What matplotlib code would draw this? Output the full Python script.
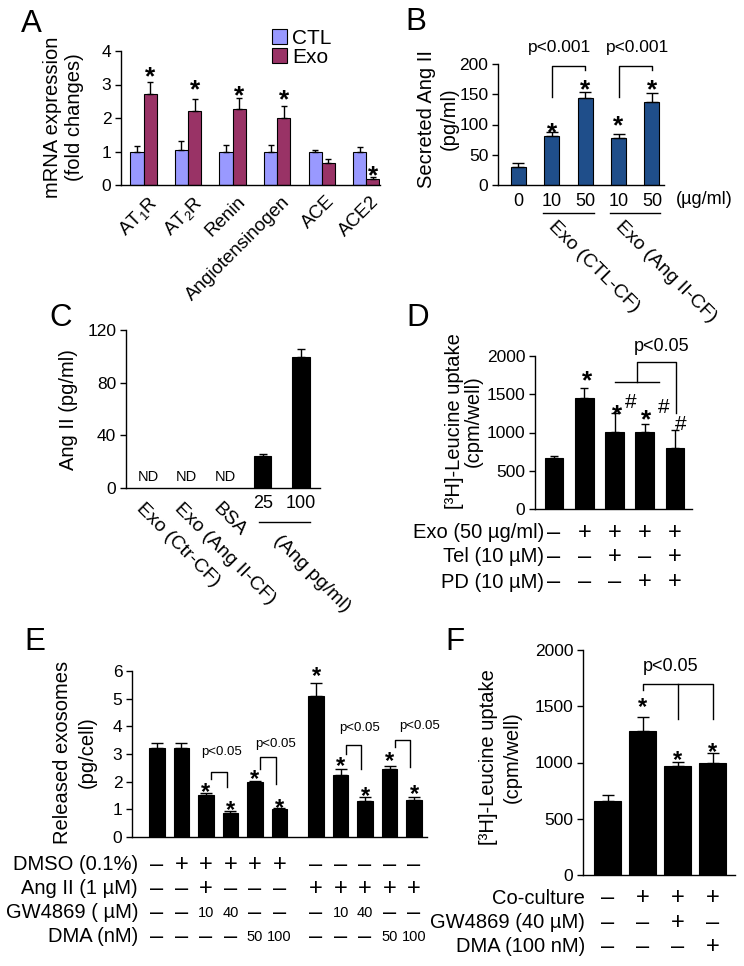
import matplotlib
matplotlib.use('Agg')
import matplotlib.pyplot as plt
from matplotlib.transforms import blended_transform_factory, offset_copy
from matplotlib.patches import Patch
import numpy as np

plt.rcParams['font.family'] = ['Liberation Sans', 'DejaVu Sans']
plt.rcParams['mathtext.fontset'] = 'custom'
plt.rcParams['mathtext.rm'] = 'Liberation Sans'
plt.rcParams['mathtext.it'] = 'Liberation Sans:italic'
plt.rcParams['mathtext.bf'] = 'Liberation Sans:bold'

W, H = 744, 966

# ---------------- data ----------------
# Panel A
a_genes = ['AT$_1$R', 'AT$_2$R', 'Renin', 'Angiotensinogen', 'ACE', 'ACE2']
a_ctl = [1.0, 1.03, 1.0, 1.0, 1.0, 1.0]
a_ctl_err = [0.17, 0.28, 0.19, 0.19, 0.05, 0.13]
a_exo = [2.71, 2.2, 2.27, 2.01, 0.67, 0.17]
a_exo_err = [0.35, 0.38, 0.33, 0.36, 0.11, 0.08]
a_star_y = [3.47, 3.08, 2.91, 2.78, None, 0.5]

# Panel B
b_doses = ['0', '10', '50', '10', '50']
b_vals = [30, 81, 144, 78.5, 138]
b_err = [6.5, 6, 10, 6, 14]
b_star_y = [None, 99, 170, 110, 170]
b_groups = ['Exo (CTL-CF)', 'Exo (Ang II-CF)']
b_pvals = ['p<0.001', 'p<0.001']

# Panel C
c_labels = ['Exo (Ctr-CF)', 'Exo (Ang II-CF)', 'BSA', '25', '100']
c_vals = [None, None, None, 24.3, 99.4]
c_err = [0, 0, 0, 1.3, 6.4]

# Panel D
d_vals = [665, 1457, 1013, 1013, 796]
d_err = [22, 130, 248, 96, 239]
d_row_labels = ['Exo (50 µg/ml)', 'Tel (10 µM)', 'PD (10 µM)']
d_row_signs = [['–', '+', '+', '+', '+'],
               ['–', '–', '+', '–', '+'],
               ['–', '–', '–', '+', '+']]
d_marks = [(1.09, 1774, '*'), (2.08, 1339, '*'), (2.52, 1413, '#'),
           (3.04, 1274, '*'), (3.62, 1352, '#'), (4.17, 1130, '#')]

# Panel E
e_pos = [0, 1, 2, 3, 4, 5, 6.5, 7.5, 8.5, 9.5, 10.5]
e_vals = [3.2, 3.2, 1.51, 0.85, 1.99, 1.03, 5.11, 2.23, 1.29, 2.45, 1.33]
e_err = [0.21, 0.21, 0.08, 0.08, 0.03, 0.02, 0.47, 0.21, 0.16, 0.13, 0.12]
e_star_y = [None, None, 1.85, 1.21, 2.33, 1.29, 6.06, 2.81, 1.73, 3.0, 1.81]
# (left bar idx, right bar idx, left-leg bottom, top, right-leg bottom, text x, text y)
e_brackets = [(2, 3, 2.11, 2.36, 1.81, 2.64, 3.08),
              (4, 5, 2.47, 2.89, 1.93, 4.86, 3.36),
              (7, 8, 2.99, 3.32, 2.44, 8.26, 3.93),
              (9, 10, 3.26, 3.50, 2.54, 10.71, 4.01)]
e_row_labels = ['DMSO (0.1%)', 'Ang II (1 µM)', 'GW4869 ( µM)', 'DMA (nM)']
e_row_vals = [['–', '+', '+', '+', '+', '+', '–', '–', '–', '–', '–'],
              ['–', '–', '+', '–', '–', '–', '+', '+', '+', '+', '+'],
              ['–', '–', '10', '40', '–', '–', '–', '10', '40', '–', '–'],
              ['–', '–', '–', '–', '50', '100', '–', '–', '–', '50', '100']]

# Panel F
f_vals = [661, 1280, 969, 999]
f_err = [50, 127, 38, 88]
f_star_y = [None, 1550, 1081, 1156]
f_row_labels = ['Co-culture', 'GW4869 (40 µM)', 'DMA (100 nM)']
f_row_signs = [['–', '+', '+', '+'],
               ['–', '–', '+', '–'],
               ['–', '–', '–', '+']]

# ---------------- helpers ----------------
TICK_FS = 12.5
ROW_FS = 14.5
SIGN_FS = 17
YLAB_FS = 14.5

fig = plt.figure(figsize=(W / 100, H / 100), dpi=100)
fig.patch.set_facecolor('white')


def fy(ypix):
    return 1 - ypix / H


def fx(xpix):
    return xpix / W


def make_ax(x0, x1, y0, y1):
    ax = fig.add_axes([x0 / W, 1 - y1 / H, (x1 - x0) / W, (y1 - y0) / H])
    for s in ('top', 'right'):
        ax.spines[s].set_visible(False)
    for s in ('left', 'bottom'):
        ax.spines[s].set_linewidth(1.0)
    ax.tick_params(axis='y', direction='out', length=4, width=1, labelsize=TICK_FS, pad=3)
    ax.tick_params(axis='x', length=0)
    ax.set_facecolor('none')
    return ax


def bt(ax):
    return blended_transform_factory(ax.transData, fig.transFigure)


def mark(ax, x, y, s='*', fs=19):
    off = -0.58 * fs if s == '*' else -0.36 * fs
    tr = offset_copy(ax.transData, fig=fig, y=off, units='points')
    ax.text(x, y, s, transform=tr, ha='center', va='baseline', fontsize=fs,
            clip_on=False, fontweight='bold' if s == '*' else 'normal')


def sign(ax, x, ypix, s):
    if s in ('+', '–'):
        ax.text(x, fy(ypix), s, transform=bt(ax), ha='center', va='center',
                fontsize=SIGN_FS, fontweight='light')
    else:
        ax.text(x, fy(ypix), s, transform=bt(ax), ha='center', va='center', fontsize=10.5)


def ylab(xpix, ypix, s, fs=YLAB_FS):
    fig.text(fx(xpix), fy(ypix), s, rotation=90, ha='center', va='center', fontsize=fs)


def letter(xpix, ypix, s):
    fig.text(fx(xpix), fy(ypix), s, ha='center', va='center', fontsize=22.5)


def errs(ax, x, v, e, cs):
    x = np.asarray(x, float)
    ax.errorbar(x, v, yerr=[np.zeros(len(v)), e], fmt='none', ecolor='black',
                elinewidth=1, capsize=cs, capthick=1, clip_on=False)


# ---------------- Panel A ----------------
axA = make_ax(121, 380, 51, 185)
xa = np.arange(len(a_genes))
bw = 0.295
axA.bar(xa - bw / 2, a_ctl, bw, color='#9999FF', edgecolor='black', linewidth=0.8, label='CTL')
axA.bar(xa + bw / 2, a_exo, bw, color='#993366', edgecolor='black', linewidth=0.8, label='Exo')
errs(axA, xa - bw / 2, a_ctl, a_ctl_err, 2)
errs(axA, xa + bw / 2, a_exo, a_exo_err, 2)
axA.set_xlim(-0.506, 5.31)
axA.set_ylim(0, 4)
axA.set_yticks([0, 1, 2, 3, 4])
axA.set_xticks([])
for i, g in enumerate(a_genes):
    axA.text(i + 0.1, fy(193), g, transform=bt(axA), rotation=45, ha='right', va='top',
             rotation_mode='anchor', fontsize=13.5)
for i, y in enumerate(a_star_y):
    if y is not None:
        mark(axA, i + bw / 2, y)
axA.legend(handles=[Patch(facecolor='#9999FF', edgecolor='black', linewidth=0.8, label='CTL'),
                    Patch(facecolor='#993366', edgecolor='black', linewidth=0.8, label='Exo')],
           loc='upper left', bbox_to_anchor=(fx(272), fy(29)), bbox_transform=fig.transFigure,
           frameon=False, fontsize=15, handlelength=0.7, handleheight=0.7,
           handletextpad=0.25, labelspacing=0.0, borderpad=0, borderaxespad=0)
ylab(53, 117, 'mRNA expression')
ylab(75, 117, '(fold changes)')
letter(31, 24, 'A')

# ---------------- Panel B ----------------
axB = make_ax(498, 664, 64, 185)
xb = np.arange(len(b_vals))
axB.bar(xb, b_vals, 0.45, color='#1F4E8A', edgecolor='black', linewidth=0.8)
errs(axB, xb, b_vals, b_err, 4)
axB.set_xlim(-0.61, 4.36)
axB.set_ylim(0, 200)
axB.set_yticks([0, 50, 100, 150, 200])
axB.set_xticks(xb)
axB.set_xticklabels(b_doses, fontsize=13)
axB.tick_params(axis='x', pad=6)
axB.text(fx(704), fy(199), '(µg/ml)', transform=fig.transFigure, ha='center', va='center', fontsize=13)
for i, y in enumerate(b_star_y):
    if y is not None:
        mark(axB, i, y)
for k, (l, r) in enumerate([(1, 2), (3, 4)]):
    axB.plot([l, l, r, r], [146, 197, 197, 190.6], color='black', lw=1, clip_on=False)
    axB.text([1.23, 3.57][k], 228, b_pvals[k], ha='center', va='center', fontsize=12.5)
    axB.plot([l - 0.25, r + 0.25], [fy(213)] * 2, color='black', lw=1,
             transform=bt(axB), clip_on=False)
    axB.text(l + 0.15, fy(218), b_groups[k], transform=bt(axB), rotation=-45, ha='left',
             va='top', rotation_mode='anchor', fontsize=14)
ylab(426, 119, 'Secreted Ang II')
ylab(449, 119, '(pg/ml)')
letter(416, 22, 'B')

# ---------------- Panel C ----------------
axC = make_ax(126, 320, 330, 488)
for i, v in enumerate(c_vals):
    if v is None:
        axC.text(i, 8.1, 'ND', ha='center', va='center', fontsize=10.5)
    else:
        axC.bar(i, v, 0.45, color='black', edgecolor='black', linewidth=0.8)
        errs(axC, [i], [v], [c_err[i]], 3)
axC.set_xlim(-0.6, 4.5)
axC.set_ylim(0, 120)
axC.set_yticks([0, 40, 80, 120])
axC.set_xticks([])
for i in range(3):
    axC.text(i - 0.1, fy(500), c_labels[i], transform=bt(axC), rotation=-45, ha='left',
             va='top', rotation_mode='anchor', fontsize=14)
for i in range(3, 5):
    axC.text(i, fy(504), c_labels[i], transform=bt(axC), ha='center', va='center', fontsize=13)
axC.plot([2.9, 4.25], [fy(522)] * 2, color='black', lw=1, transform=bt(axC), clip_on=False)
axC.text(3.5, fy(532), '(Ang pg/ml)', transform=bt(axC), rotation=-45, ha='left',
         va='top', rotation_mode='anchor', fontsize=14)
ylab(68, 410, 'Ang II (pg/ml)')
letter(61, 318, 'C')

# ---------------- Panel D ----------------
axD = make_ax(535, 692, 356, 509)
xd = np.arange(len(d_vals))
axD.bar(xd, d_vals, 0.62, color='black', edgecolor='black', linewidth=0.8)
errs(axD, xd, d_vals, d_err, 3)
axD.set_xlim(-0.63, 4.56)
axD.set_ylim(0, 2000)
axD.set_yticks([0, 500, 1000, 1500, 2000])
axD.set_xticks([])
for x, y, s in d_marks:
    mark(axD, x, y, s, fs=19 if s == '*' else 15)
axD.plot([2.01, 3.48], [1665, 1665], color='black', lw=1, clip_on=False)
axD.plot([2.74, 2.74, 4.03, 4.03], [1665, 1917, 1917, 1252], color='black', lw=1, clip_on=False)
axD.text(3.56, 2130, 'p<0.05', ha='center', va='center', fontsize=13)
for r, (lab, signs) in enumerate(zip(d_row_labels, d_row_signs)):
    ypx = [533, 557, 582][r]
    fig.text(fx(544), fy(ypx), lab, ha='right', va='center', fontsize=ROW_FS)
    for i, s in enumerate(signs):
        sign(axD, i, ypx, s)
ylab(455, 421, '[³H]-Leucine uptake')
ylab(473, 421, '(cpm/well)')
letter(418, 318, 'D')

# ---------------- Panel E ----------------
axE = make_ax(132, 427, 671, 837)
axE.bar(e_pos, e_vals, 0.64, color='black', edgecolor='black', linewidth=0.8)
errs(axE, e_pos, e_vals, e_err, 4)
axE.set_xlim(-1.02, 11.03)
axE.set_ylim(0, 6)
axE.set_yticks([0, 1, 2, 3, 4, 5, 6])
axE.set_xticks([])
for p, y in zip(e_pos, e_star_y):
    if y is not None:
        mark(axE, p, y, fs=17)
for li, ri, lb, top, rb, tx, ty in e_brackets:
    xl = e_pos[li] + 0.22
    xr = e_pos[ri] - 0.15
    axE.plot([xl, xl, xr, xr], [lb, top, top, rb], color='black', lw=1, clip_on=False)
    axE.text(tx, ty, 'p<0.05', ha='center', va='center', fontsize=9.5)
for r, (lab, vals) in enumerate(zip(e_row_labels, e_row_vals)):
    ypx = [865, 889, 913, 937][r]
    fig.text(fx(138), fy(ypx), lab, ha='right', va='center', fontsize=ROW_FS)
    for p, s in zip(e_pos, vals):
        sign(axE, p, ypx, s)
ylab(62, 752, 'Released exosomes')
ylab(87, 752, '(pg/cell)')
letter(35, 642, 'E')

# ---------------- Panel F ----------------
axF = make_ax(583, 735, 650, 875)
xf = np.arange(len(f_vals))
axF.bar(xf, f_vals, 0.78, color='black', edgecolor='black', linewidth=0.8)
errs(axF, xf, f_vals, f_err, 4.5)
axF.set_xlim(-0.7, 3.64)
axF.set_ylim(0, 2000)
axF.set_yticks([0, 500, 1000, 1500, 2000])
axF.set_xticks([])
for i, y in enumerate(f_star_y):
    if y is not None:
        mark(axF, i, y, fs=17)
axF.plot([1, 1, 3, 3], [1644, 1697, 1697, 1384], color='black', lw=1, clip_on=False)
axF.plot([2.02, 2.02], [1697, 1384], color='black', lw=1, clip_on=False)
axF.text(1.79, 1852, 'p<0.05', ha='center', va='center', fontsize=13)
for r, (lab, signs) in enumerate(zip(f_row_labels, f_row_signs)):
    ypx = [898, 923, 947][r]
    fig.text(fx(585), fy(ypx), lab, ha='right', va='center', fontsize=ROW_FS)
    for i, s in enumerate(signs):
        sign(axF, i, ypx, s)
ylab(488, 757, '[³H]-Leucine uptake')
ylab(512, 757, '(cpm/well)')
letter(455, 642, 'F')

fig.savefig('out.png', dpi=100, facecolor='white')
